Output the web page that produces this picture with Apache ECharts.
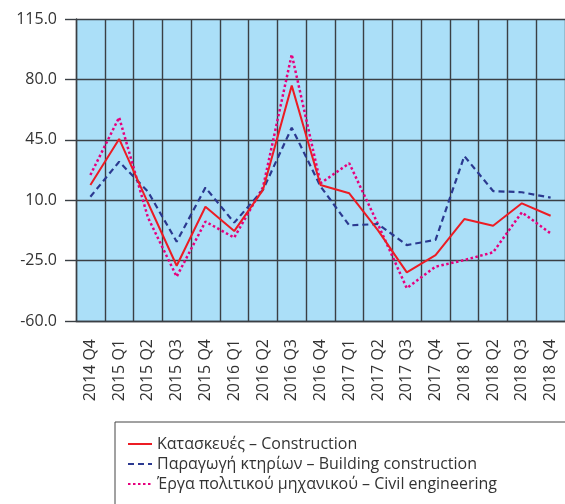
<!DOCTYPE html>
<html>
<head>
<meta charset="utf-8">
<script src="https://cdn.jsdelivr.net/npm/echarts@6/dist/echarts.min.js"></script>
<style>
  html, body { margin: 0; padding: 0; background: #fff; }
  #chart { width: 565px; height: 504px; }
</style>
</head>
<body>
<div id="chart"></div>
<script>
var categories = ["2014 Q4", "2015 Q1", "2015 Q2", "2015 Q3", "2015 Q4", "2016 Q1", "2016 Q2", "2016 Q3", "2016 Q4",
  "2017 Q1", "2017 Q2", "2017 Q3", "2017 Q4", "2018 Q1", "2018 Q2", "2018 Q3", "2018 Q4"];
var construction = [18.8, 45.5, 8.5, -28.0, 6.2, -7.9, 16.0, 76.4, 18.8, 14.0, -7.5, -31.8, -21.8, -0.9, -4.8, 8.2, 1.0];
var building = [12.0, 32.3, 15.0, -14.0, 17.3, -3.0, 16.0, 52.0, 18.0, -4.6, -3.8, -16.0, -13.0, 35.6, 15.3, 14.6, 11.5];
var civil = [24.6, 58.0, 0.0, -34.3, -2.4, -11.7, 17.5, 94.5, 19.8, 31.4, -4.0, -41.0, -28.5, -24.7, -20.2, 3.0, -9.2];
var names = ["Κατασκευές – Construction", "Παραγωγή κτηρίων – Building construction", "Έργα πολιτικού μηχανικού – Civil engineering"];

var chart = echarts.init(document.getElementById("chart"));
var font = "'Open Sans', sans-serif";
var gridLine = { color: "#3a3f44", width: 1.4 };

var option = {
  animation: false,
  textStyle: { fontFamily: font },
  grid: {
    left: 76,
    top: 19,
    right: -2,
    bottom: 183,
    show: true,
    backgroundColor: "#abdff8",
    borderWidth: 0,
  },
  legend: {
    orient: "vertical",
    left: 122,
    top: 431,
    itemWidth: 24,
    itemHeight: 14,
    itemGap: 4,
    // hide the circle marker, keep only the line sample
    itemStyle: { opacity: 0 },
    textStyle: { fontFamily: font, fontSize: 16, color: "#333", lineHeight: 16 },
    data: names,
  },
  graphic: [
    {
      type: "rect",
      shape: { x: 115, y: 422, width: 470, height: 100 },
      style: { fill: null, stroke: "#444", lineWidth: 1 },
      z: 0,
    },
  ],
  xAxis: {
    type: "category",
    data: categories,
    boundaryGap: true,
    axisLine: { onZero: false, lineStyle: gridLine },
    axisTick: { show: false },
    splitLine: { show: true, interval: 0, lineStyle: gridLine },
    axisLabel: {
      interval: 0,
      rotate: 90,
      margin: 18,
      fontSize: 16,
      color: "#333",
      fontFamily: font,
    },
  },
  yAxis: {
    type: "value",
    min: -60,
    max: 115,
    interval: 35,
    axisLine: { show: true, lineStyle: gridLine },
    axisTick: { show: true, length: 11, lineStyle: gridLine },
    splitLine: { show: true, lineStyle: gridLine },
    axisLabel: {
      margin: 19,
      fontSize: 16,
      color: "#333",
      fontFamily: font,
      formatter: function (v) { return v.toFixed(1); },
    },
  },
  series: [
    {
      name: names[2],
      type: "line",
      symbol: "none",
      data: civil,
      color: "#e6007e",
      lineStyle: { width: 2.5, type: [2.5, 2.5], color: "#e6007e" },
    },
    {
      name: names[1],
      type: "line",
      symbol: "none",
      data: building,
      color: "#2b3990",
      lineStyle: { width: 2.2, type: [6, 4], color: "#2b3990" },
    },
    {
      name: names[0],
      type: "line",
      symbol: "none",
      data: construction,
      color: "#ec1c24",
      lineStyle: { width: 2, color: "#ec1c24" },
    },
  ],
};
chart.setOption(option);
</script>
</body>
</html>
